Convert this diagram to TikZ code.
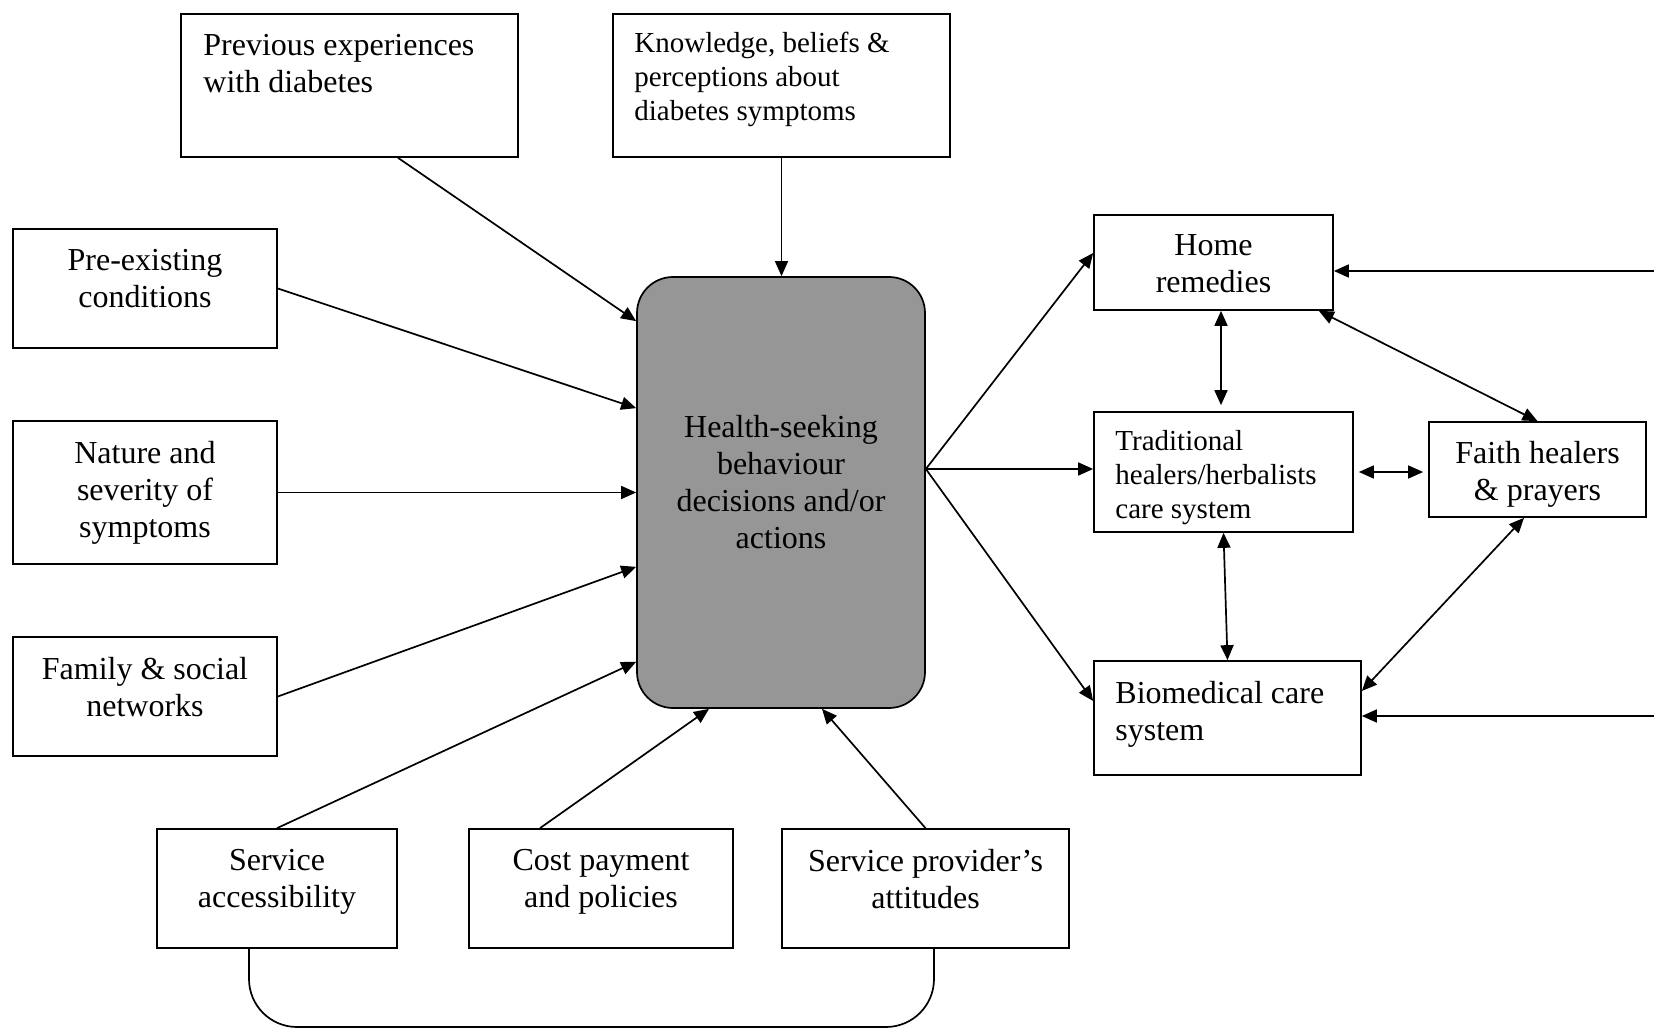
\documentclass[tikz,border=0pt]{standalone}
\usepackage{fontspec}
\setmainfont{Liberation Serif}
\usetikzlibrary{arrows.meta,fit,calc}
\definecolor{hubgray}{RGB}{150,150,150}
\begin{document}
\begin{tikzpicture}[x=0.5pt,y=-0.5pt,
  box/.style={draw=black,line width=0.85pt,inner sep=0pt,fill=white},
  hubbox/.style={draw=black,line width=0.85pt,inner sep=0pt,fill=hubgray,rounded corners=18pt},
  big/.style={font=\fontsize{16pt}{18.5pt}\selectfont,inner sep=0pt},
  small/.style={font=\fontsize{14.5pt}{17pt}\selectfont,inner sep=0pt},
  arr/.style={line width=0.85pt,-{Triangle[length=7.5pt,width=6.5pt]}},
  darr/.style={line width=0.85pt,{Triangle[length=7.5pt,width=6.5pt]}-{Triangle[length=7.5pt,width=6.5pt]}},
  link/.style={line width=0.85pt}]
\useasboundingbox (0,0) rectangle (1654,1031);

% boxes
\node[box,fit={(181,14)(518,157)}] (prev) {};
\node[box,fit={(613,14)(950,157)}] (know) {};
\node[box,fit={(13,229)(277,348)}] (pre) {};
\node[box,fit={(13,421)(277,564)}] (nat) {};
\node[box,fit={(13,637)(277,756)}] (fam) {};
\node[box,fit={(157,829)(397,948)}] (sacc) {};
\node[box,fit={(469,829)(733,948)}] (cost) {};
\node[box,fit={(782,829)(1069,948)}] (prov) {};
\node[hubbox,fit={(637,277)(925,708)}] (central) {};
\node[box,fit={(1094,215)(1333,310)}] (home) {};
\node[box,fit={(1094,412)(1353,532)}] (trad) {};
\node[box,fit={(1429,422)(1646,517)}] (faith) {};
\node[box,fit={(1094,661)(1361,775)}] (bio) {};

% texts
\node[big,align=left,anchor=north west] (prevT) at (203,34) {Previous experiences\\with diabetes};
\node[small,align=left,anchor=north west] (knowT) at (634,32) {Knowledge, beliefs \&\\perceptions about\\diabetes symptoms};
\node[big,align=center,anchor=north] (preT) at (145,249) {Pre-existing\\conditions};
\node[big,align=center,anchor=north] (natT) at (145,441) {Nature and\\severity of\\symptoms};
\node[big,align=center,anchor=north] (famT) at (145,657) {Family \& social\\networks};
\node[big,align=center,anchor=north] (saccT) at (277,849) {Service\\accessibility};
\node[big,align=center,anchor=north] (costT) at (601,849) {Cost payment\\and policies};
\node[big,align=center,anchor=north] (provT) at (925.5,849) {Service provider’s\\attitudes};
\node[big,align=center,anchor=north] (centralT) at (781,415) {Health-seeking\\behaviour\\decisions and/or\\actions};
\node[big,align=center,anchor=north] (homeT) at (1213.5,234) {Home\\remedies};
\node[small,align=left,anchor=north west] (tradT) at (1115,430) {Traditional\\healers/herbalists\\care system};
\node[big,align=center,anchor=north] (faithT) at (1537.5,441) {Faith healers\\\& prayers};
\node[big,align=left,anchor=north west] (bioT) at (1115,681) {Biomedical care\\system};

% inputs to central
\draw[arr] ([xshift=24.25pt]prev.south) -- ([yshift=-22.5pt]central.north west);
\draw[arr] (know.south) -- (know.south |- central.north);
\draw[arr] (pre.east) -- ([yshift=-66pt]central.north west);
\draw[arr] (nat.east) -- (nat.east -| central.west);
\draw[arr] (fam.east) -- ([yshift=71pt]central.south west);
\draw[arr] (sacc.north) -- ([yshift=23.5pt]central.south west);
\draw[arr] ([xshift=-30.5pt]cost.north) -- ([xshift=-36pt]central.south);
\draw[arr] (prov.north) -- ([xshift=20.5pt]central.south);

% outputs
\coordinate (hub) at ([yshift=1.5pt]central.east |- trad.west);
\draw[arr] (hub) -- ([yshift=4.75pt]home.west);
\draw[arr] (hub) -- (hub -| trad.west);
\draw[arr] (hub) -- ([yshift=8.5pt]bio.west);

% care systems
\draw[darr,shorten >=3pt] ([xshift=3.75pt]home.south) -- ([xshift=3.75pt]home.south |- trad.north);
\draw[darr] ([xshift=-7.5pt]home.south east) -- (faith.north);
\draw[darr,shorten <=2.5pt,shorten >=2.5pt] (trad.east) -- (trad.east -| faith.west);
\draw[darr] (trad.south) -- (bio.north);
\draw[darr] ([xshift=-6.75pt]faith.south) -- ([yshift=13.5pt]bio.east);

% right-edge arrows
\coordinate (rt) at (1654,271);
\coordinate (rb) at (1654,716);
\draw[arr] (rt) -- (rt -| home.east);
\draw[arr] (rb) -- (rb -| bio.east);

% bottom loop
\coordinate (loopL) at ([xshift=-14pt]sacc.south);
\coordinate (loopR) at ([xshift=4.25pt]prov.south);
\coordinate (loopB) at (0,1027);
\draw[link,rounded corners=24pt] (loopL) -- (loopL |- loopB) -- (loopR |- loopB) -- (loopR);
\end{tikzpicture}
\end{document}
